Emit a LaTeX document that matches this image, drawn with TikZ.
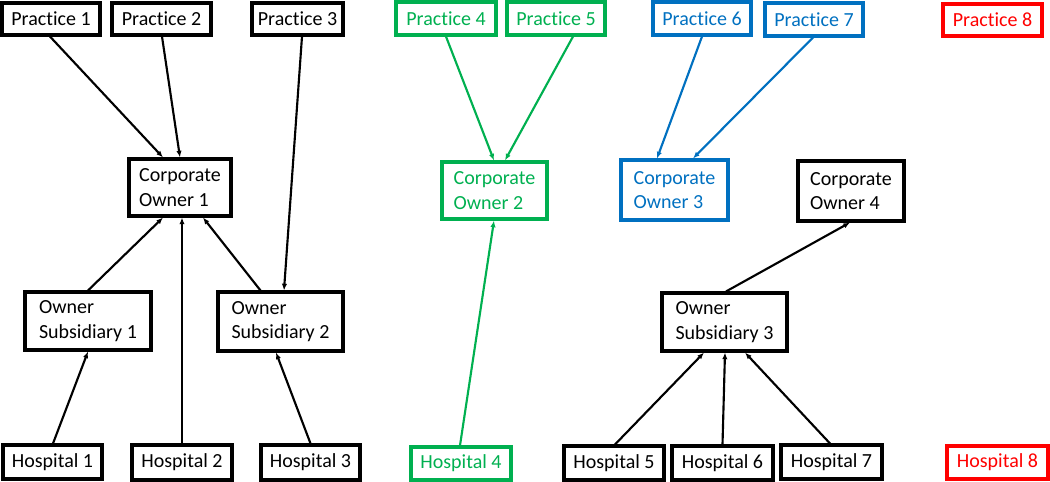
\documentclass[tikz,border=0pt]{standalone}
\usepackage{fontspec}
\setmainfont{Carlito}[Ligatures={NoCommon}]
\usetikzlibrary{arrows.meta,calc}
\definecolor{ogreen}{RGB}{0,176,80}
\definecolor{oblue}{RGB}{0,112,192}
\definecolor{ored}{RGB}{255,0,0}
\tikzset{
  box/.style={draw, line width=2.3pt, rectangle, inner sep=0pt, align=left,
    font=\fontsize{15}{18.5}\selectfont},
  conn/.style={line width=1.6pt, -{Latex[length=5pt,width=4pt]}},
}
\begin{document}
\begin{tikzpicture}[x=0.75pt,y=-0.75pt]
\useasboundingbox (0,0) rectangle (1050,482);
% top row
\node[box, minimum width=98*0.75pt, minimum height=32*0.75pt] (p1) at (51,19) {Practice 1};
\node[box, minimum width=99*0.75pt, minimum height=32*0.75pt] (p2) at (161.5,19) {Practice 2};
\node[box, minimum width=91*0.75pt, minimum height=32*0.75pt] (p3) at (297.5,19) {Practice 3};
\node[box, ogreen, minimum width=100*0.75pt, minimum height=33*0.75pt] (p4) at (446,18.5) {Practice 4};
\node[box, ogreen, minimum width=98*0.75pt, minimum height=33*0.75pt] (p5) at (556,18.5) {Practice 5};
\node[box, oblue, minimum width=98*0.75pt, minimum height=33*0.75pt] (p6) at (702,18.5) {Practice 6};
\node[box, oblue, minimum width=98*0.75pt, minimum height=33*0.75pt] (p7) at (814,19.5) {Practice 7};
\node[box, ored, minimum width=99*0.75pt, minimum height=32*0.75pt] (p8) at (992.5,20) {Practice 8};
% corporate owners
\node[box, minimum width=102*0.75pt, minimum height=57*0.75pt] (co1) at (180,187.5) {Corporate\\Owner 1};
\node[box, ogreen, minimum width=105*0.75pt, minimum height=57*0.75pt] (co2) at (494.5,190.5) {Corporate\\Owner 2};
\node[box, oblue, minimum width=107*0.75pt, minimum height=60*0.75pt] (co3) at (674.5,190) {Corporate\\Owner 3};
\node[box, minimum width=106*0.75pt, minimum height=60*0.75pt] (co4) at (851,191) {Corporate\\Owner 4};
% subsidiaries
\node[box, minimum width=126*0.75pt, minimum height=58*0.75pt] (os1) at (88,321) {Owner\\Subsidiary 1};
\node[box, minimum width=125*0.75pt, minimum height=59*0.75pt] (os2) at (280.5,321.5) {Owner\\Subsidiary 2};
\node[box, minimum width=125*0.75pt, minimum height=58*0.75pt] (os3) at (724.5,322) {Owner\\Subsidiary 3};
% hospitals
\node[box, minimum width=99*0.75pt, minimum height=34*0.75pt] (h1) at (52.5,462) {Hospital 1};
\node[box, minimum width=100*0.75pt, minimum height=35*0.75pt] (h2) at (182,462.5) {Hospital 2};
\node[box, minimum width=99*0.75pt, minimum height=35*0.75pt] (h3) at (310.5,462.5) {Hospital 3};
\node[box, ogreen, minimum width=100*0.75pt, minimum height=33*0.75pt] (h4) at (461,463.5) {Hospital 4};
\node[box, minimum width=100*0.75pt, minimum height=34*0.75pt] (h5) at (614,463) {Hospital 5};
\node[box, minimum width=101*0.75pt, minimum height=34*0.75pt] (h6) at (722.5,463) {Hospital 6};
\node[box, minimum width=101*0.75pt, minimum height=34*0.75pt] (h7) at (831.5,462) {Hospital 7};
\node[box, ored, minimum width=101*0.75pt, minimum height=33*0.75pt] (h8) at (997.5,462.5) {Hospital 8};
% connectors
\draw[conn] ($(p1.south)+(-1,0)$) -- ($(co1.north)+(-17,0)$);
\draw[conn] ($(p2.south)+(0.5,0)$) -- ($(co1.north)+(0,0)$);
\draw[conn] ($(p3.south)+(4.5,0)$) -- ($(os2.north)+(3.5,0)$);
\draw[conn] (os1.north) -- ($(co1.south)+(-17,0)$);
\draw[conn] (h2.north) -- ($(co1.south)+(2,0)$);
\draw[conn] ($(os2.north)+(-20,0)$) -- ($(co1.south)+(23,0)$);
\draw[conn] ($(h1.north)+(0.5,0)$) -- (os1.south);
\draw[conn] (h3.north) -- ($(os2.south)+(-4.5,0)$);
\draw[conn, ogreen] (p4.south) -- ($(co2.north)+(-0.5,0)$);
\draw[conn, ogreen] ($(p5.south)+(17,0)$) -- ($(co2.north)+(10.5,0)$);
\draw[conn, ogreen] ($(h4.north)+(-1,0)$) -- ($(co2.south)+(-0.5,0)$);
\draw[conn, oblue] (p6.south) -- ($(co3.north)+(-17.5,0)$);
\draw[conn, oblue] ($(p7.south)+(-1,0)$) -- ($(co3.north)+(18.5,0)$);
\draw[conn] ($(os3.north)+(1.5,0)$) -- ($(co4.south)+(-1,0)$);
\draw[conn] ($(h5.north)+(1,0)$) -- ($(os3.south)+(-20.5,0)$);
\draw[conn] (h6.north) -- ($(os3.south)+(0.5,0)$);
\draw[conn] ($(h7.north)+(-1.5,0)$) -- ($(os3.south)+(20.5,0)$);
\end{tikzpicture}
\end{document}
